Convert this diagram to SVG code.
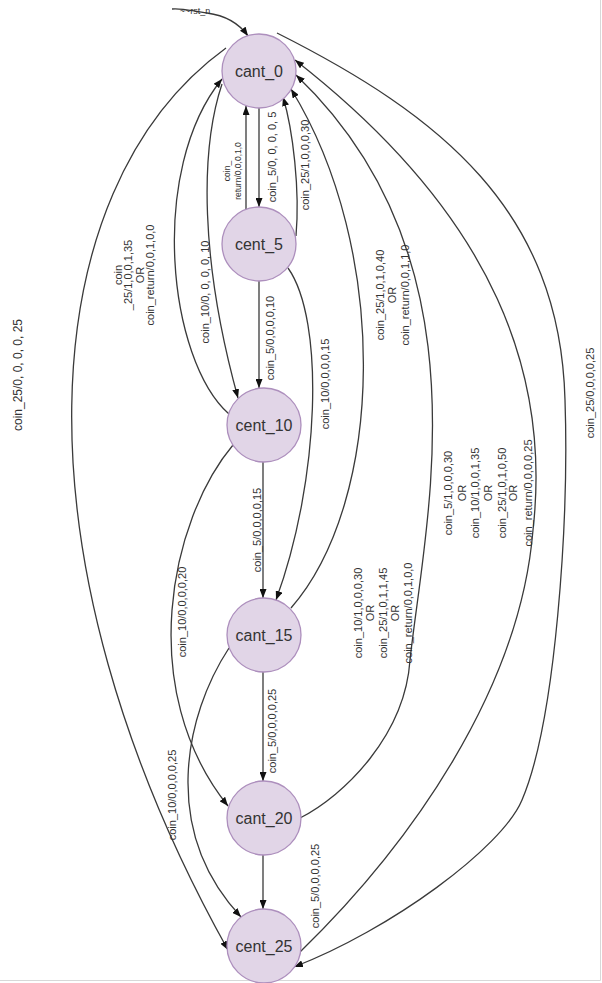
<svg xmlns="http://www.w3.org/2000/svg" width="602" height="983" viewBox="0 0 602 983">
<defs>
<marker id="arr" markerUnits="userSpaceOnUse" markerWidth="9" markerHeight="7" refX="9" refY="3.5" orient="auto">
<path d="M0,0 L9,3.5 L0,7 z" fill="#111"/>
</marker>
<style>
.e{fill:none;stroke:#3a3a3a;stroke-width:1.3;marker-end:url(#arr)}
.node circle{fill:#e1d5e7;stroke:#ad8fbd;stroke-width:1.3}
.node text{font-family:"Liberation Sans",Arial,sans-serif;font-size:16px;fill:#333;text-anchor:middle}
.lbl{font-family:"Liberation Sans",Arial,sans-serif;font-size:11px;fill:#333;text-anchor:middle}
</style>
</defs>
<rect width="602" height="983" fill="#fff"/>
<path d="M600.5,0 V980.5 H0" fill="none" stroke="#d8d8d8" stroke-width="1"/>

<g id="connectors">
<path class="e" d="M172,9 C182,8 192,11 207,13 C222,15 238,22 248,36"/>
<path class="e" d="M259,108 L259,207"/>
<path class="e" d="M246,210 L246,106"/>
<path class="e" d="M296,236 C300,190 293,130 283,97"/>
<path class="e" d="M222,84 C200,150 200,260 238,398"/>
<path class="e" d="M229,414 C168,360 148,170 222,79"/>
<path class="e" d="M259,281 L259,388"/>
<path class="e" d="M288,268 C325,320 320,480 276,600"/>
<path class="e" d="M291,608 C385,500 390,250 291,89"/>
<path class="e" d="M263,462 L263,598"/>
<path class="e" d="M233,445 C170,520 135,690 228,806"/>
<path class="e" d="M263,672 L263,781"/>
<path class="e" d="M300,818 C345,795 405,735 410,660 C425,520 490,260 296,75"/>
<path class="e" d="M229,648 C185,715 160,830 241,917"/>
<path class="e" d="M263,855 L263,909"/>
<path class="e" d="M300,952 C410,845 520,690 533,530 C550,380 500,220 295,60"/>
<path class="e" d="M226,48 C30,190 10,560 228,950"/>
<path class="e" d="M277,33 C440,115 560,210 565,400 C569,520 556,720 522,800 C502,848 390,930 294,967"/>
</g>

<g id="edge-labels">
<text class="lbl" x="195" y="14" style="font-size:9px">~~rst_n</text>
<text class="lbl" transform="rotate(-90)"><tspan x="-157" y="276">coin_5/0, 0, 0, 0, 5</tspan></text>
<text class="lbl" transform="rotate(-90)" style="font-size:8.5px"><tspan x="-171" y="230">coin_</tspan><tspan x="-171" y="241">return/0,0,0,1,0</tspan></text>
<text class="lbl" transform="rotate(-90)"><tspan x="-165" y="309">coin_25/1,0,0,0,30</tspan></text>
<text class="lbl" transform="rotate(-90)"><tspan x="-292" y="209">coin_10/0, 0, 0, 0, 10</tspan></text>
<text class="lbl" transform="rotate(-90)"><tspan x="-275" y="122">coin</tspan><tspan x="-275" y="132">_25/1,0,0,1,35</tspan><tspan x="-275" y="144">OR</tspan><tspan x="-275" y="154">coin_return/0,0,1,0,0</tspan></text>
<text class="lbl" transform="rotate(-90)"><tspan x="-338" y="274">coin_5/0,0,0,0,10</tspan></text>
<text class="lbl" transform="rotate(-90)"><tspan x="-384" y="329">coin_10/0,0,0,0,15</tspan></text>
<text class="lbl" transform="rotate(-90)"><tspan x="-295" y="384">coin_25/1,0,1,0,40</tspan><tspan x="-295" y="396">OR</tspan><tspan x="-295" y="409">coin_return/0,0,1,1,0</tspan></text>
<text class="lbl" transform="rotate(-90)"><tspan x="-530" y="261">coin_5/0,0,0,0,15</tspan></text>
<text class="lbl" transform="rotate(-90)"><tspan x="-612" y="186">coin_10/0,0,0,0,20</tspan></text>
<text class="lbl" transform="rotate(-90)"><tspan x="-731" y="276">coin_5/0,0,0,0,25</tspan></text>
<text class="lbl" transform="rotate(-90)"><tspan x="-613" y="362">coin_10/1,0,0,0,30</tspan><tspan x="-613" y="374">OR</tspan><tspan x="-613" y="387">coin_25/1,0,1,1,45</tspan><tspan x="-613" y="399">OR</tspan><tspan x="-613" y="412">coin_return/0,0,1,0,0</tspan></text>
<text class="lbl" transform="rotate(-90)"><tspan x="-493" y="452">coin_5/1,0,0,0,30</tspan><tspan x="-493" y="466">OR</tspan><tspan x="-493" y="479">coin_10/1,0,0,1,35</tspan><tspan x="-493" y="492">OR</tspan><tspan x="-493" y="506">coin_25/1,0,1,0,50</tspan><tspan x="-493" y="517">OR</tspan><tspan x="-493" y="532">coin_return/0,0,0,0,25</tspan></text>
<text class="lbl" transform="rotate(-90)"><tspan x="-393" y="594">coin_25/0,0,0,0,25</tspan></text>
<text class="lbl" transform="rotate(-90)" style="font-size:12px"><tspan x="-375" y="22">coin_25/0, 0, 0, 0, 25</tspan></text>
<text class="lbl" transform="rotate(-90)"><tspan x="-795" y="176">coin_10/0,0,0,0,25</tspan></text>
<text class="lbl" transform="rotate(-90)"><tspan x="-886" y="319">coin_5/0,0,0,0,25</tspan></text>
</g>

<g id="cant_0" class="node"><circle cx="259" cy="71" r="37"/><text x="259" y="77">cant_0</text></g>
<g id="cent_5" class="node"><circle cx="259" cy="244" r="37"/><text x="259" y="250">cent_5</text></g>
<g id="cent_10" class="node"><circle cx="264" cy="425" r="37"/><text x="264" y="431">cent_10</text></g>
<g id="cant_15" class="node"><circle cx="264" cy="635" r="37"/><text x="264" y="641">cant_15</text></g>
<g id="cant_20" class="node"><circle cx="264" cy="818" r="37"/><text x="264" y="824">cant_20</text></g>
<g id="cent_25" class="node"><circle cx="264" cy="946" r="37"/><text x="264" y="952">cent_25</text></g>
</svg>
